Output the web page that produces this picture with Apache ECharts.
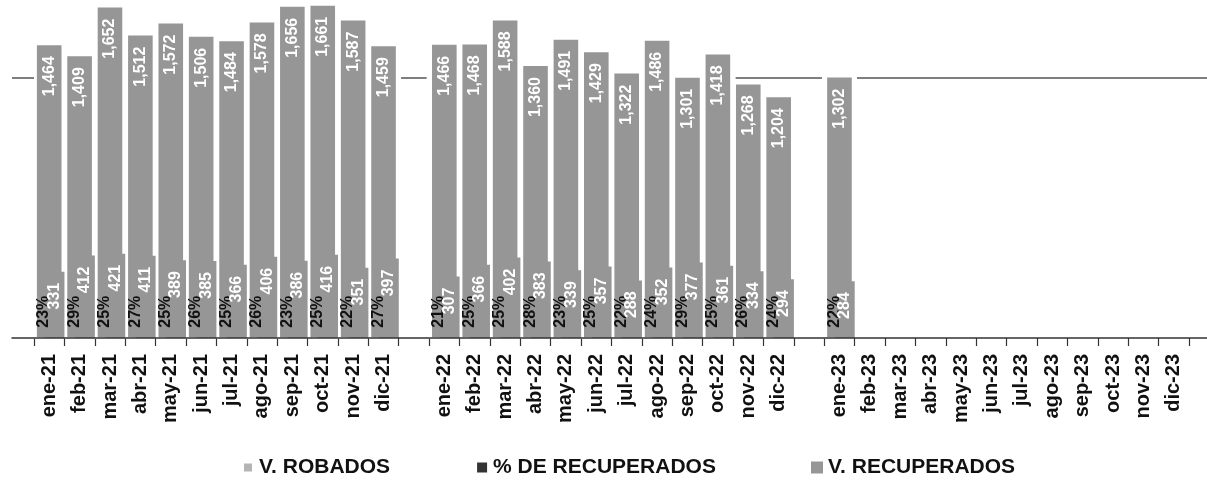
<!DOCTYPE html>
<html>
<head>
<meta charset="utf-8">
<script src="https://cdn.jsdelivr.net/npm/echarts@6/dist/echarts.min.js"></script>
<style>
  html, body { margin: 0; padding: 0; background: #ffffff; }
  #chart { width: 1207px; height: 481px; }
</style>
</head>
<body>
<div id="chart"></div>
<script>
// ---- data ----
const categories = [
  'ene-21','feb-21','mar-21','abr-21','may-21','jun-21','jul-21','ago-21','sep-21','oct-21','nov-21','dic-21',
  ' ',
  'ene-22','feb-22','mar-22','abr-22','may-22','jun-22','jul-22','ago-22','sep-22','oct-22','nov-22','dic-22',
  '  ',
  'ene-23','feb-23','mar-23','abr-23','may-23','jun-23','jul-23','ago-23','sep-23','oct-23','nov-23','dic-23'
];
const vRobados = [
  1464,1409,1652,1512,1572,1506,1484,1578,1656,1661,1587,1459,
  null,
  1466,1468,1588,1360,1491,1429,1322,1486,1301,1418,1268,1204,
  null,
  1302,null,null,null,null,null,null,null,null,null,null,null
];
const vRecuperados = [
  331,412,421,411,389,385,366,406,386,416,351,397,
  null,
  307,366,402,383,339,357,288,352,377,361,334,294,
  null,
  284,null,null,null,null,null,null,null,null,null,null,null
];
const pctRecuperados = [
  23,29,25,27,25,26,25,26,23,25,22,27,
  null,
  21,25,25,28,23,25,22,24,29,25,26,24,
  null,
  22,null,null,null,null,null,null,null,null,null,null,null
];
const legendNames = ['V. ROBADOS', '% DE RECUPERADOS', 'V. RECUPERADOS'];
const gridValue = 1300;

// ---- chart ----
const FONT = '"Liberation Sans", Arial, sans-serif';
const fmtThousands = v => String(v).replace(/\B(?=(\d{3})+(?!\d))/g, ',');
const pctFraction = pctRecuperados.map(v => v == null ? null : v / 100);

const chart = echarts.init(document.getElementById('chart'), null, { renderer: 'canvas' });

const hiddenCat = () => ({
  type: 'category', gridIndex: 0, data: categories, show: false, boundaryGap: true
});

const legendText = { fontFamily: FONT, fontSize: 21, fontWeight: 'bold', color: '#111' };

const option = {
  animation: false,
  backgroundColor: '#ffffff',
  textStyle: { fontFamily: FONT },
  grid: [
    { left: 34, right: 18, top: 0, bottom: 143, containLabel: false },
    { left: 12, right: 0, top: 0, bottom: 143, containLabel: false }
  ],
  xAxis: [
    {
      type: 'category', gridIndex: 0, data: categories, boundaryGap: true,
      axisLine: { show: false },
      axisTick: { show: true, interval: 0, length: 8, lineStyle: { color: '#333', width: 1.2 } },
      axisLabel: {
        interval: 0, rotate: 90, margin: 16,
        fontFamily: FONT, fontSize: 20, fontWeight: 'bold', color: '#111'
      },
      splitLine: { show: false }
    },
    hiddenCat(),
    hiddenCat(),
    {
      type: 'value', gridIndex: 1, min: 0, max: 1, z: 5,
      axisLine: { show: true, onZero: false, lineStyle: { color: '#333', width: 1.5 } },
      axisTick: { show: false }, axisLabel: { show: false }, splitLine: { show: false }
    }
  ],
  yAxis: [
    { type: 'value', gridIndex: 0, min: 0, max: 1690, show: false },
    {
      type: 'value', gridIndex: 1, min: 0, max: 1690, interval: gridValue,
      axisLine: { show: false }, axisTick: { show: false }, axisLabel: { show: false },
      splitLine: { show: true, showMinLine: false, showMaxLine: false,
        lineStyle: { color: '#555', width: 1.5 } }
    }
  ],
  legend: [
    {
      data: [
        { name: legendNames[0], itemStyle: { color: '#b4b4b4', borderColor: '#fff', borderWidth: 4 } },
        { name: legendNames[1], itemStyle: { color: '#333333' } }
      ],
      left: 235, top: 452,
      icon: 'rect', itemWidth: 12, itemHeight: 12, itemGap: 85,
      selectedMode: false, textStyle: legendText
    },
    {
      data: [
        { name: legendNames[2], itemStyle: { color: '#969696' } }
      ],
      left: 806, top: 452,
      icon: 'rect', itemWidth: 12, itemHeight: 12,
      selectedMode: false, textStyle: legendText
    }
  ],
  series: [
    {
      name: 'halo', type: 'bar', xAxisIndex: 2, yAxisIndex: 0,
      data: vRobados, barWidth: 35, silent: true,
      itemStyle: { color: '#ffffff', shadowColor: '#ffffff', shadowBlur: 0, shadowOffsetY: -4 }
    },
    {
      name: legendNames[0], type: 'bar', xAxisIndex: 0, yAxisIndex: 0,
      data: vRobados, barWidth: 24.6,
      itemStyle: { color: '#969696' },
      label: {
        show: true, position: 'insideTop', distance: 11, rotate: 90,
        align: 'right', verticalAlign: 'middle',
        fontFamily: FONT, fontSize: 16, fontWeight: 'bold', color: '#ffffff',
        formatter: p => fmtThousands(p.value)
      }
    },
    {
      name: legendNames[1], type: 'bar', xAxisIndex: 1, yAxisIndex: 0,
      data: pctFraction, barWidth: 20,
      itemStyle: { color: '#333333', borderColor: '#ffffff', borderWidth: 1.5 },
      label: {
        show: true, position: 'insideBottom', distance: 11, rotate: 90,
        align: 'left', verticalAlign: 'middle',
        fontFamily: FONT, fontSize: 16, fontWeight: 'bold', color: '#111111',
        formatter: p => pctRecuperados[p.dataIndex] + '%'
      }
    },
    {
      name: legendNames[2], type: 'bar', xAxisIndex: 1, yAxisIndex: 0,
      data: vRecuperados, barWidth: 20, barGap: '-47.5%',
      itemStyle: { color: '#969696' },
      label: {
        show: true, position: 'insideTop', distance: 11, rotate: 90,
        align: 'right', verticalAlign: 'middle',
        fontFamily: FONT, fontSize: 16, fontWeight: 'bold', color: '#ffffff',
        formatter: p => fmtThousands(p.value)
      }
    }
  ]
};

chart.setOption(option);
</script>
</body>
</html>
